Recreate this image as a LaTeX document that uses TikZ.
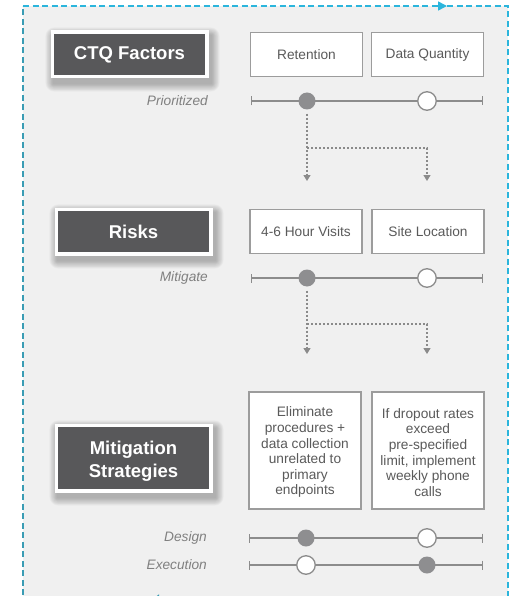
\documentclass[tikz,border=0pt]{standalone}
\usepackage{fontspec}
\setmainfont{Liberation Sans}
\usetikzlibrary{arrows.meta}

\definecolor{panelbg}{HTML}{F0F0F0}
\definecolor{cyanline}{HTML}{2BB5DC}
\definecolor{tealline}{HTML}{3A9CB4}
\definecolor{darkbox}{HTML}{58585A}
\definecolor{boxtext}{HTML}{5A5A5A}
\definecolor{labeltext}{HTML}{808080}
\definecolor{rail}{HTML}{8C8C8C}
\definecolor{knob}{HTML}{8E8E90}
\definecolor{boxedge}{HTML}{9C9C9C}
\definecolor{flowgray}{HTML}{8A8A8A}

\pgfdeclarelayer{panel}
\pgfdeclarelayer{shade}
\pgfsetlayers{panel,shade,main}

% soft drop shadow under a heading box
\newcommand{\softshade}[1]{%
  \begin{pgfonlayer}{shade}
    \foreach \g in {1,...,9}{
      \fill[black, opacity=0.03, rounded corners=\g pt]
        ([shift={(3-0.9*\g,5-0.9*\g)}]#1.north west) rectangle
        ([shift={(3+0.9*\g,5+0.9*\g)}]#1.south east);
    }
  \end{pgfonlayer}}

% centred block of lines, lowered by #1 and of zero size for the node
\newcommand{\lineblock}[3]{\raisebox{-#1}[0pt][0pt]{\parbox{#2}{\centering #3}}}

\begin{document}
\begin{tikzpicture}[x=1pt,y=-1pt,
  headbox/.style={fill=darkbox, draw=white, line width=3.5pt, text=white,
    font=\fontsize{18.5}{23}\selectfont\bfseries, align=center,
    minimum width=154.5pt, inner sep=0pt},
  itembox/.style={fill=white, draw=boxedge, line width=1.2pt, text=boxtext,
    font=\fontsize{13.7}{15.6}\selectfont, align=center,
    minimum width=112pt, inner sep=0pt},
  rowlabel/.style={anchor=east, text=labeltext,
    font=\fontsize{13.7}{15.7}\selectfont\itshape, inner sep=0pt},
  rail/.style={draw=rail, line width=1.4pt, {Bar[width=9pt,line width=1.4pt]}-{Bar[width=9pt,line width=1.4pt]}},
  knobon/.style={circle, fill=knob, minimum size=17pt, inner sep=0pt},
  knoboff/.style={circle, fill=white, draw=rail, line width=1.3pt,
    minimum size=18.5pt, inner sep=0pt},
  flow/.style={draw=flowgray, line width=1.3pt, dash pattern=on 2pt off 2pt},
  flowtip/.style={flow, -{Triangle[length=6pt,width=7pt]}},
  frame/.style={line width=1.6pt, dash pattern=on 6pt off 3.5pt}
]
\useasboundingbox (0,0) rectangle (512,596);

% panel and its dashed cycle border
\coordinate (pTL) at (23,6);
\coordinate (pTR) at (508,6);
\coordinate (pBR) at (508,602);
\coordinate (pBL) at (23,602);
\coordinate (pTopTip) at (447,6);
\coordinate (pBotTip) at (149,602);
\begin{pgfonlayer}{panel}
  \fill[panelbg] (pTL) rectangle (pBR);
  \draw[frame, cyanline, -{Triangle[length=9pt,width=9pt]}] (pTL) -- (pTopTip);
  \draw[frame, cyanline] (pTopTip) -- (pTR) -- (pBR);
  \draw[frame, tealline, -{Triangle[length=10pt,width=15pt]}] (pBR) -- (pBotTip);
  \draw[frame, tealline] (pBotTip) -- (pBL) -- (pTL);
\end{pgfonlayer}

% row 1: CTQ factors
\node[headbox, minimum height=44.5pt] (ctq) at (129.5,54.5) {CTQ Factors};
\softshade{ctq}
\node[itembox, minimum height=44pt] (ret) at (306.5,54.5) {Retention};
\node[itembox, minimum height=44pt] (dq) at (427.5,54.5) {Data Quantity};
\node[rowlabel] (lprio) at (208,101) {Prioritized};
\coordinate (r1a) at (251,101);
\coordinate (r1b) at (483,101);
\draw[rail] (r1a) -- (r1b);
\node[knobon] (k1a) at (307,101) {};
\node[knoboff] (k1b) at (427,101) {};

% flow from row 1 to row 2
\coordinate (j1) at (307,148);
\coordinate (t1a) at (307,181);
\coordinate (t1b) at (427,181);
\draw[flowtip, shorten <=4pt] (k1a) -- (t1a);
\draw[flowtip] (j1) -| (t1b);

% row 2: risks
\node[headbox, minimum height=44.5pt] (risks) at (133.5,231.5) {Risks};
\softshade{risks}
\node[itembox, minimum height=44pt] (visits) at (306,231.5) {4-6 Hour Visits};
\node[itembox, minimum height=44pt] (site) at (428,231.5) {Site Location};
\node[rowlabel] (lmit) at (208,278) {Mitigate};
\coordinate (r2a) at (251,278);
\coordinate (r2b) at (483,278);
\draw[rail] (r2a) -- (r2b);
\node[knobon] (k2a) at (307,278) {};
\node[knoboff] (k2b) at (427,278) {};

% flow from row 2 to row 3
\coordinate (j2) at (307,324);
\coordinate (t2a) at (307,354);
\coordinate (t2b) at (427,354);
\draw[flowtip, shorten <=4pt] (k2a) -- (t2a);
\draw[flowtip] (j2) -| (t2b);

% row 3: mitigation strategies
\node[headbox, minimum height=65.5pt] (strat) at (133.5,458)
  {\lineblock{7.6pt}{150pt}{Mitigation\\Strategies}};
\softshade{strat}
\node[itembox, minimum height=117pt] (elim) at (305,450.5)
  {\lineblock{5.4pt}{110pt}{Eliminate\\procedures +\\data collection\\unrelated to\\primary\\endpoints}};
\node[itembox, minimum height=117pt] (drop) at (428,450.5)
  {\lineblock{5.4pt}{110pt}{If dropout rates\\exceed\\pre-specified\\limit, implement\\weekly phone\\calls}};

\node[rowlabel] (ldes) at (207,538) {Design};
\coordinate (r3a) at (249,538);
\coordinate (r3b) at (483,538);
\draw[rail] (r3a) -- (r3b);
\node[knobon] (k3a) at (306,538) {};
\node[knoboff] (k3b) at (427,538) {};

\node[rowlabel] (lexe) at (207,565) {Execution};
\coordinate (r4a) at (249,565);
\coordinate (r4b) at (483,565);
\draw[rail] (r4a) -- (r4b);
\node[knoboff] (k4a) at (306,565) {};
\node[knobon] (k4b) at (427,565) {};
\end{tikzpicture}
\end{document}
